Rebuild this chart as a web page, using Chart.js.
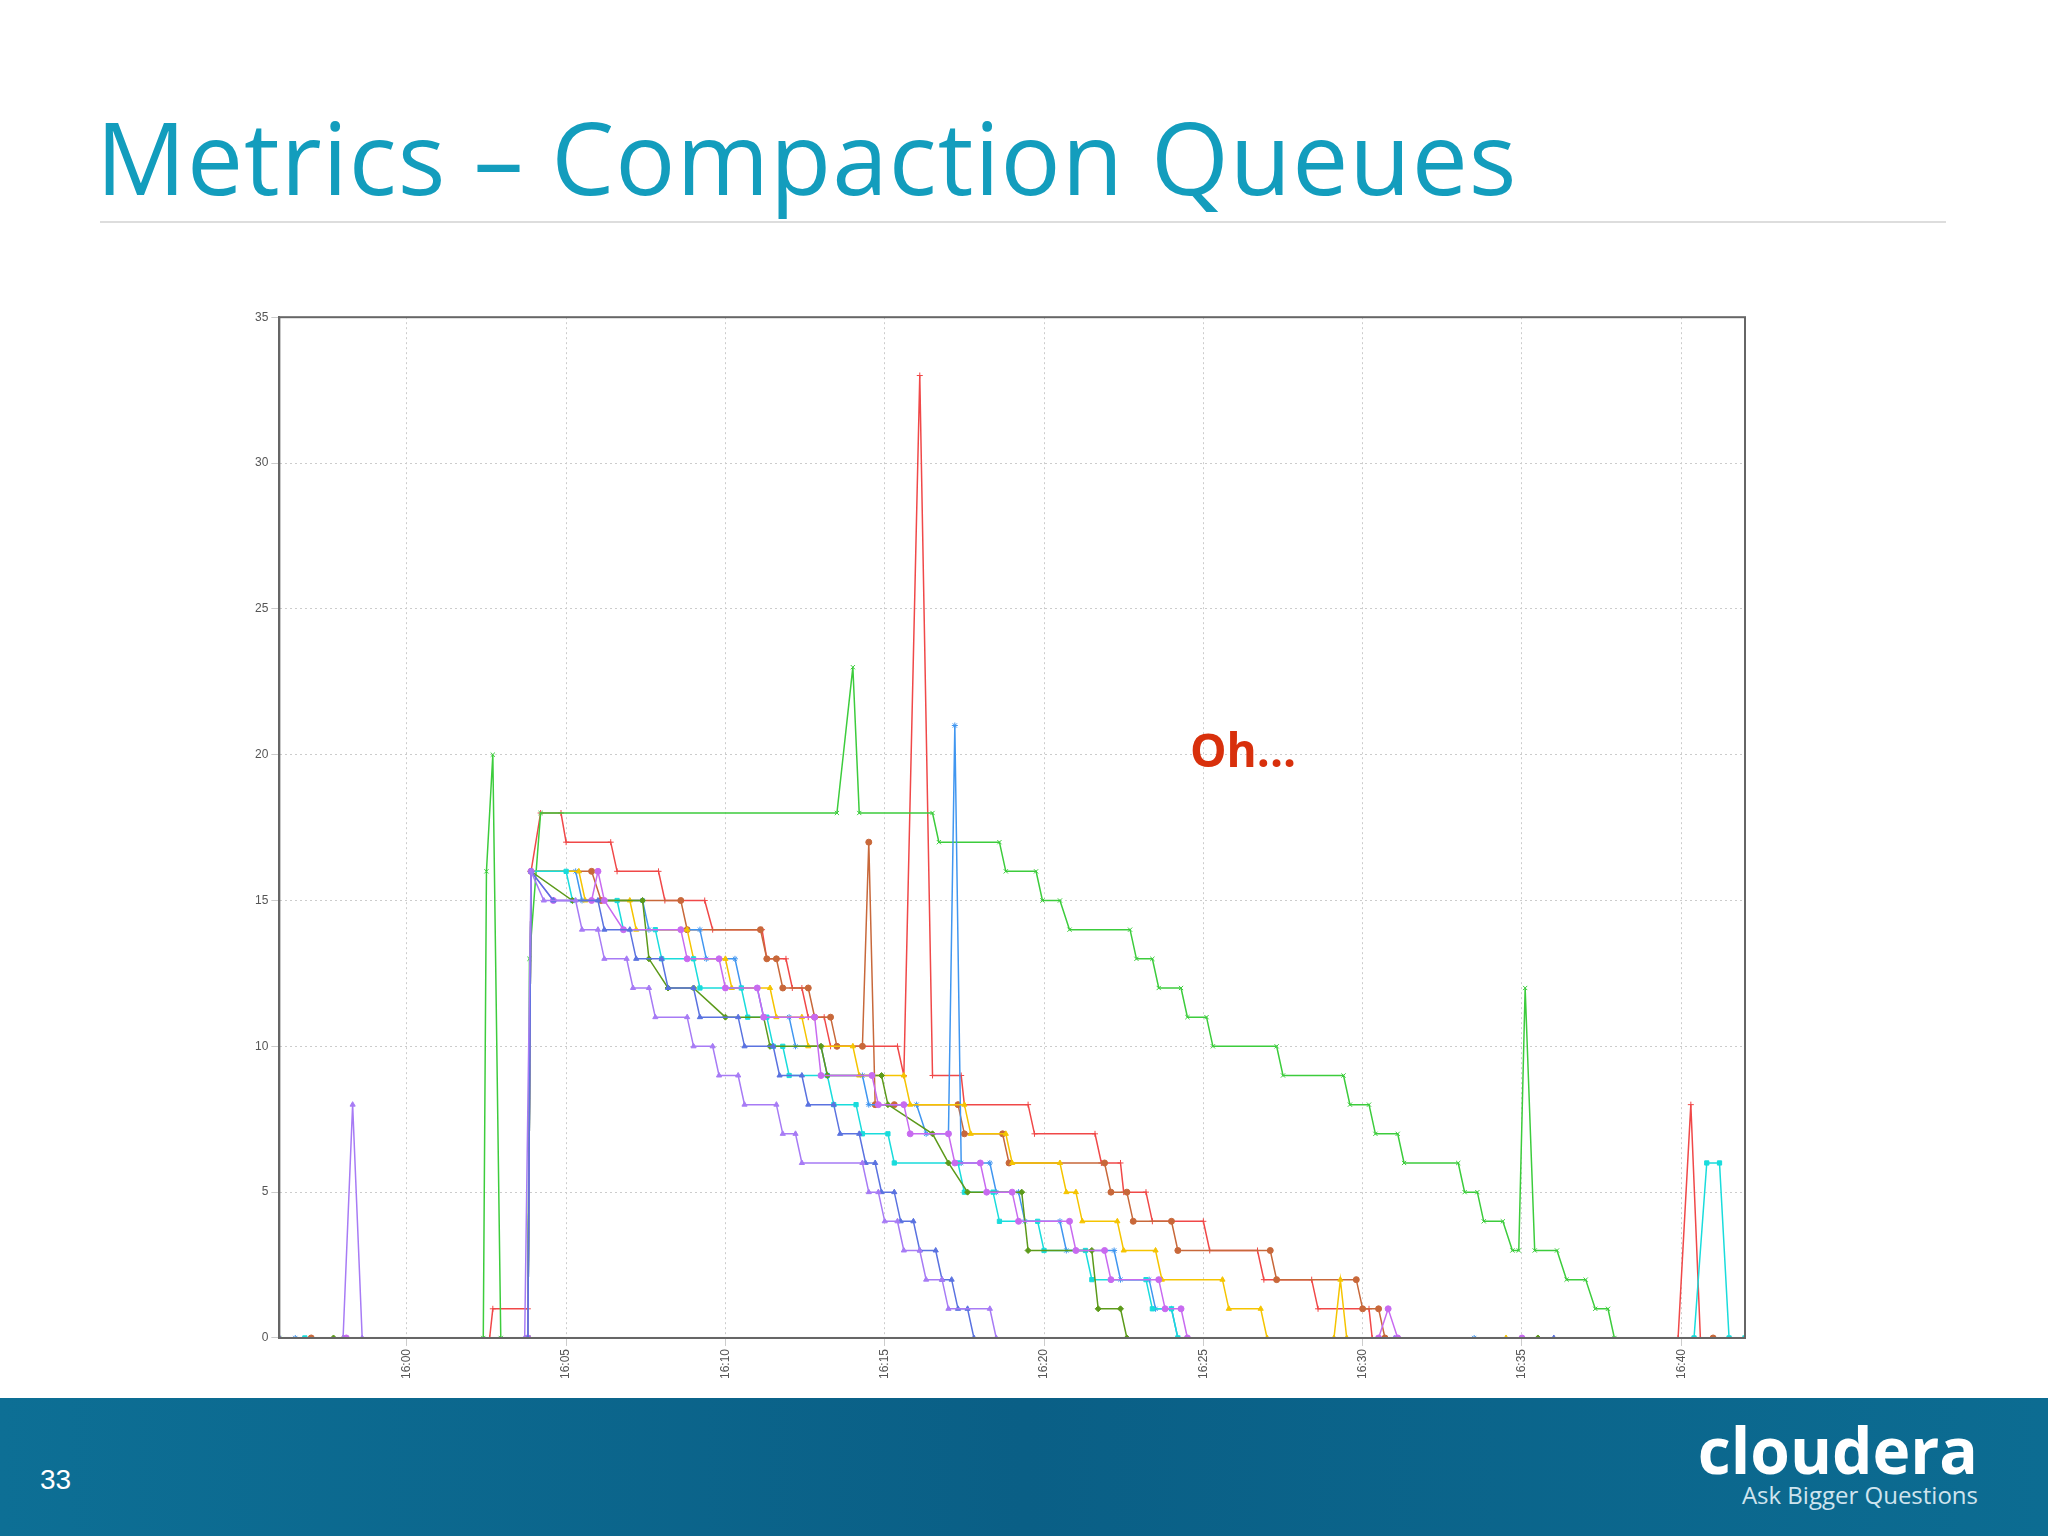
<!DOCTYPE html>
<html><head><meta charset="utf-8">
<script src="https://cdn.jsdelivr.net/npm/chart.js@4/dist/chart.umd.min.js"></script>
<style>
body{margin:0;width:2048px;height:1536px;background:#fff;position:relative;overflow:hidden;font-family:"Open Sans","DejaVu Sans",sans-serif}
#title{position:absolute;left:96px;top:88px;font-size:100px;color:#139dbd;letter-spacing:1px}
#rule{position:absolute;left:100px;top:221px;width:1846px;height:2px;background:#ddd}
#box{position:absolute;left:252px;top:307px;width:1513px;height:1075px}
#oh{position:absolute;left:1190px;top:718px;font-size:46px;font-weight:bold;color:#d8300c}
#foot{position:absolute;left:0;top:1398px;width:2048px;height:138px;background:linear-gradient(90deg,#0d6f95,#0a5f86 50%,#0c6c92)}
#pg{position:absolute;left:40px;top:1464px;font:28px "Liberation Sans",sans-serif;color:#fff}
#logo{position:absolute;right:70px;top:1420px;color:#fff;font:bold 64px "Open Sans",sans-serif;text-align:right;line-height:60px}
#logo small{display:block;font:24px "Open Sans",sans-serif;color:#cfe4ee;line-height:30px}
</style></head><body>
<div id="title">Metrics – Compaction Queues</div>
<div id="rule"></div>
<div id="box"><canvas id="c"></canvas></div>
<div id="oh">Oh...</div>
<div id="foot"></div>
<div id="pg">33</div>
<div id="logo">cloudera<small>Ask Bigger Questions</small></div>
<script>
// minutes after 16:00
var xTicks = [0,5,10,15,20,25,30,35,40];
var xTickLabels = ["16:00","16:05","16:10","16:15","16:20","16:25","16:30","16:35","16:40"];

var redX = [-4,2.6,2.7,3.8,3.9,4.2,4.84,5.0,6.4,6.6,7.9,8.1,9.35,9.6,11.15,11.3,11.9,12.1,12.4,12.6,13.1,13.3,15.4,15.6,16.1,16.5,17.4,17.5,19.5,19.7,21.6,21.8,22.4,22.5,23.2,23.4,25.0,25.2,26.7,26.9,28.4,28.6,30.2,30.3,39.9,40.3,40.6,42];
var redY = [0,0,1,1,16,18,18,17,17,16,16,15,15,14,14,13,13,12,12,11,11,10,10,9,33,9,9,8,8,7,7,6,6,5,5,4,4,3,3,2,2,1,1,0,0,8,0,0];
var greenX = [-4,2.4,2.5,2.7,2.95,3.8,3.85,4.2,13.5,14.0,14.2,16.5,16.7,18.6,18.8,19.75,19.95,20.5,20.8,22.7,22.9,23.4,23.6,24.3,24.5,25.1,25.3,27.3,27.5,29.4,29.6,30.2,30.4,31.1,31.3,33.0,33.2,33.6,33.8,34.4,34.7,34.9,35.1,35.4,36.1,36.4,37.0,37.3,37.7,37.9,42];
var greenY = [0,0,16,20,0,0,13,18,18,23,18,18,17,17,16,16,15,15,14,14,13,13,12,12,11,11,10,10,9,9,8,8,7,7,6,6,5,5,4,4,3,3,12,3,3,2,2,1,1,0,0];
var brownX = [-3,3.8,3.9,5.8,6.1,8.6,8.8,11.1,11.3,11.6,11.8,12.6,12.8,13.3,13.5,14.3,14.5,14.7,15.3,17.3,17.5,18.7,18.9,21.9,22.1,22.6,22.8,24.0,24.2,27.1,27.3,29.8,30.0,30.5,30.7,41];
var brownY = [0,0,16,16,15,15,14,14,13,13,12,12,11,11,10,10,17,8,8,8,7,7,6,6,5,5,4,4,3,3,2,2,1,1,0,0];
var blueX = [-3.5,3.8,3.9,5.3,5.5,7.4,7.6,9.2,9.4,10.3,10.5,11.0,11.2,12.0,12.2,13.0,13.2,14.3,14.5,16.0,16.3,17.0,17.2,17.4,18.3,18.5,19.2,19.4,20.5,20.7,22.2,22.4,23.3,23.5,24.0,24.2,33.5];
var blueY = [0,0,16,16,15,15,14,14,13,13,12,12,11,11,10,10,9,9,8,8,7,7,21,6,6,5,5,4,4,3,3,2,2,1,1,0,0];
var purpleX = [-4,-2.0,-1.7,-1.4,3.7,3.9,4.3,5.3,5.5,6.0,6.2,6.9,7.1,7.6,7.8,8.8,9.0,9.6,9.8,10.4,10.6,11.6,11.8,12.2,12.4,14.3,14.5,14.8,15.0,15.4,15.6,16.1,16.3,16.8,17.0,18.3,18.5,31.0];
var purpleY = [0,0,8,0,0,16,15,15,14,14,13,13,12,12,11,11,10,10,9,9,8,8,7,7,6,6,5,5,4,4,3,3,2,2,1,1,0,0];
var indigoX = [-4,3.8,3.9,4.6,6.0,6.2,7.0,7.2,8.0,8.2,9.0,9.2,10.4,10.6,11.5,11.7,12.4,12.6,13.4,13.6,14.2,14.4,14.7,14.9,15.3,15.5,15.9,16.1,16.6,16.8,17.1,17.3,17.6,17.8,36.0];
var indigoY = [0,0,16,15,15,14,14,13,13,12,12,11,11,10,10,9,9,8,8,7,7,6,6,5,5,4,4,3,3,2,2,1,1,0,0];
var yellowX = [-2,3.8,3.9,5.4,5.6,7.0,7.2,8.8,9.0,10.0,10.2,11.4,11.6,12.4,12.6,14.0,14.2,15.6,15.8,17.5,17.7,18.8,19.0,20.5,20.7,21.0,21.2,22.3,22.5,23.5,23.7,25.6,25.8,26.8,27.0,29.1,29.3,29.5,34.5];
var yellowY = [0,0,16,16,15,15,14,14,13,13,12,12,11,11,10,10,9,9,8,8,7,7,6,6,5,5,4,4,3,3,2,2,1,1,0,0,2,0,0];
var cyanX = [-3.2,3.8,3.9,5.0,5.2,6.6,6.8,7.8,8.0,9.0,9.2,10.5,10.7,11.3,11.5,11.8,12.0,13.2,13.4,14.1,14.3,15.1,15.3,17.3,17.5,18.4,18.6,19.8,20.0,21.3,21.5,23.2,23.4,24.0,24.2,40.4,40.8,41.2,41.5,42];
var cyanY = [0,0,16,16,15,15,14,14,13,13,12,12,11,11,10,10,9,9,8,8,7,7,6,6,5,5,4,4,3,3,2,2,1,1,0,0,6,6,0,0];
var oliveX = [-2.3,3.8,3.9,5.2,7.4,7.6,8.2,9.0,10.0,11.2,11.4,13.0,13.2,14.9,15.1,16.5,17.0,17.6,19.3,19.5,21.5,21.7,22.4,22.6,35.5];
var oliveY = [0,0,16,15,15,13,12,12,11,11,10,10,9,9,8,7,6,5,5,3,3,1,1,0,0];
var violetX = [-1.9,3.8,3.9,4.6,5.8,6.0,6.2,6.8,8.6,8.8,9.8,10.0,11.0,11.2,12.8,13.0,14.6,14.8,15.6,15.8,17.0,17.2,18.0,18.2,19.0,19.2,20.8,21.0,21.9,22.1,23.6,23.8,24.3,24.5,30.5,30.8,31.1,35.0];
var violetY = [0,0,16,15,15,16,15,14,14,13,13,12,12,11,11,9,9,8,8,7,7,6,6,5,5,4,4,3,3,2,2,1,1,0,0,1,0,0];

function pts(xs, ys){ return xs.map(function(x,i){ return {x:x, y:ys[i]}; }); }
function ds(xs, ys, color, style){
  return {data:pts(xs,ys), borderColor:color, backgroundColor:color, borderWidth:1.5,
    pointStyle:style, pointRadius:3, pointBorderWidth:1, tension:0};
}

// frame around the plot, gnuplot style
var frame = {
  id:'frame',
  afterDraw:function(chart){
    var a = chart.chartArea, c = chart.ctx;
    c.save(); c.strokeStyle = '#666'; c.lineWidth = 2;
    c.strokeRect(a.left, a.top, a.right - a.left, a.bottom - a.top);
    c.restore();
  }
};

new Chart(document.getElementById("c"), {
  type:'line',
  data:{datasets:[
    ds(purpleX,purpleY,"#a77bf5","triangle"),
    ds(indigoX,indigoY,"#5a72e0","triangle"),
    ds(violetX,violetY,"#c86af0","circle"),
    ds(oliveX,oliveY,"#5c9a1a","rectRot"),
    ds(cyanX,cyanY,"#19dcdc","rect"),
    ds(yellowX,yellowY,"#f5c400","triangle"),
    ds(blueX,blueY,"#4096f0","star"),
    ds(brownX,brownY,"#c8683a","circle"),
    ds(greenX,greenY,"#3ccc3c","crossRot"),
    ds(redX,redY,"#f04848","cross")
  ]},
  plugins:[frame],
  options:{
    responsive:true, maintainAspectRatio:false, animation:false,
    layout:{padding:{right:20}},
    plugins:{legend:{display:false}, tooltip:{enabled:false}},
    scales:{
      x:{type:'linear', min:-4, max:42,
        afterBuildTicks:function(a){ a.ticks = xTicks.map(function(v){ return {value:v}; }); },
        ticks:{minRotation:90, maxRotation:90, font:{size:12}, color:'#555',
          callback:function(v){ var i = xTicks.indexOf(v); return i>=0 ? xTickLabels[i] : ''; }},
        grid:{color:'#ccc', tickLength:8, drawTicks:true},
        border:{color:'#666', width:2, dash:[2,3]}
      },
      y:{min:0, max:35,
        ticks:{stepSize:5, font:{size:12}, color:'#555'},
        grid:{color:'#ccc', tickLength:8},
        border:{color:'#666', width:2, dash:[2,3]}
      }
    }
  }
});
</script>
</body></html>
